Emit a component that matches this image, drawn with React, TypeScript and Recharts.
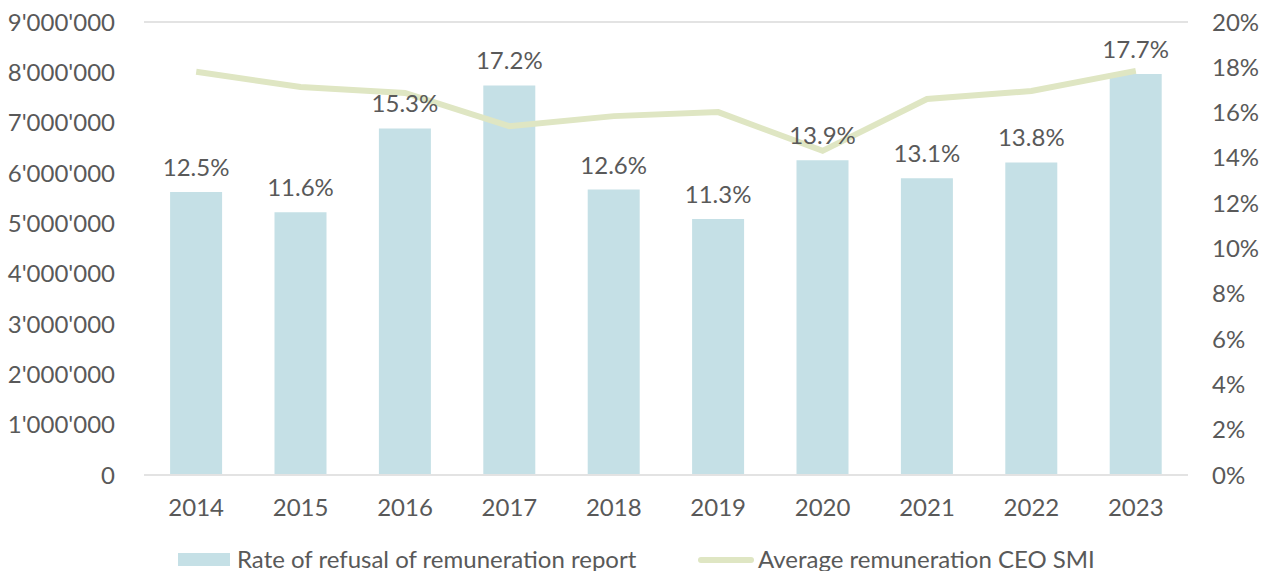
import { Bar, ComposedChart, CartesianGrid, LabelList, Legend, Line, XAxis, YAxis } from "recharts";

const years = ["2014", "2015", "2016", "2017", "2018", "2019", "2020", "2021", "2022", "2023"];
const refusalRate = [0.125, 0.116, 0.153, 0.172, 0.126, 0.113, 0.139, 0.131, 0.138, 0.177];
const avgRemuneration = [8010000, 7710000, 7590000, 6930000, 7130000, 7210000, 6440000, 7470000, 7630000, 8030000];
const leftTicks = [0, 1000000, 2000000, 3000000, 4000000, 5000000, 6000000, 7000000, 8000000, 9000000];
const rightTicks = [0, 0.02, 0.04, 0.06, 0.08, 0.1, 0.12, 0.14, 0.16, 0.18, 0.2];

const textColor = "#595959";
const barColor = "#c5e0e6";
const lineColor = "#dfe6c3";
const font = "Lato, 'Open Sans', sans-serif";

const data = years.map((year, i) => ({
    year,
    rate: refusalRate[i],
    remuneration: avgRemuneration[i],
}));

const formatChf = (v: number) => String(v).replace(/\B(?=(\d{3})+(?!\d))/g, "'");
const formatPct = (v: number) => `${Math.round(v * 100)}%`;

function ChartLegend() {
    return (
        <div style={{ position: "relative", height: 28, fontFamily: font, fontSize: 24, color: textColor }}>
            <span style={{ position: "absolute", left: 178, top: 8, width: 52, height: 13, background: barColor }} />
            <span style={{ position: "absolute", left: 237, top: 0, lineHeight: "28px", whiteSpace: "nowrap" }}>Rate of refusal of remuneration report</span>
            <span style={{ position: "absolute", left: 698, top: 12, width: 56, height: 6, borderRadius: 3, background: lineColor }} />
            <span style={{ position: "absolute", left: 758, top: 0, lineHeight: "28px", whiteSpace: "nowrap" }}>Average remuneration CEO SMI</span>
        </div>
    );
}

export default function App() {
    return (
        <div style={{ position: "absolute", left: 0, top: 0, background: "#fff" }}>
            <ComposedChart width={1268} height={571} data={data} margin={{ top: 22, right: 0, bottom: 22, left: 0 }} barCategoryGap="25%">
                <CartesianGrid vertical={false} stroke="#e3e3e3" strokeWidth={2} />
                <XAxis dataKey="year" axisLine={{ stroke: "#e3e3e3", strokeWidth: 2 }} tickLine={false} tickMargin={18}
                    tick={{ fill: textColor, fontSize: 24, fontFamily: font }} height={46} />
                <YAxis yAxisId="left" orientation="left" width={144} domain={[0, 9000000]} ticks={leftTicks} interval={0}
                    tickFormatter={formatChf} axisLine={false} tickLine={false} tickMargin={23}
                    tick={{ fill: textColor, fontSize: 24, fontFamily: font }} />
                <YAxis yAxisId="right" orientation="right" width={80} domain={[0, 0.2]} ticks={rightTicks} interval={0}
                    tickFormatter={formatPct} axisLine={false} tickLine={false} tickMargin={18}
                    tick={{ fill: textColor, fontSize: 24, fontFamily: font, textAnchor: "start" }} />
                <Legend verticalAlign="bottom" content={() => <ChartLegend />} wrapperStyle={{ bottom: -2, left: 0, width: 1268 }} />
                <Bar yAxisId="right" dataKey="rate" name="Rate of refusal of remuneration report" fill={barColor} isAnimationActive={false}>
                    <LabelList dataKey="rate" position="top" offset={16} formatter={(v: number) => `${(v * 100).toFixed(1)}%`}
                        style={{ fill: textColor, fontSize: 24, fontFamily: font }} />
                </Bar>
                <Line yAxisId="left" dataKey="remuneration" name="Average remuneration CEO SMI" stroke={lineColor} strokeWidth={6}
                    dot={false} activeDot={false} isAnimationActive={false} />
            </ComposedChart>
        </div>
    );
}
